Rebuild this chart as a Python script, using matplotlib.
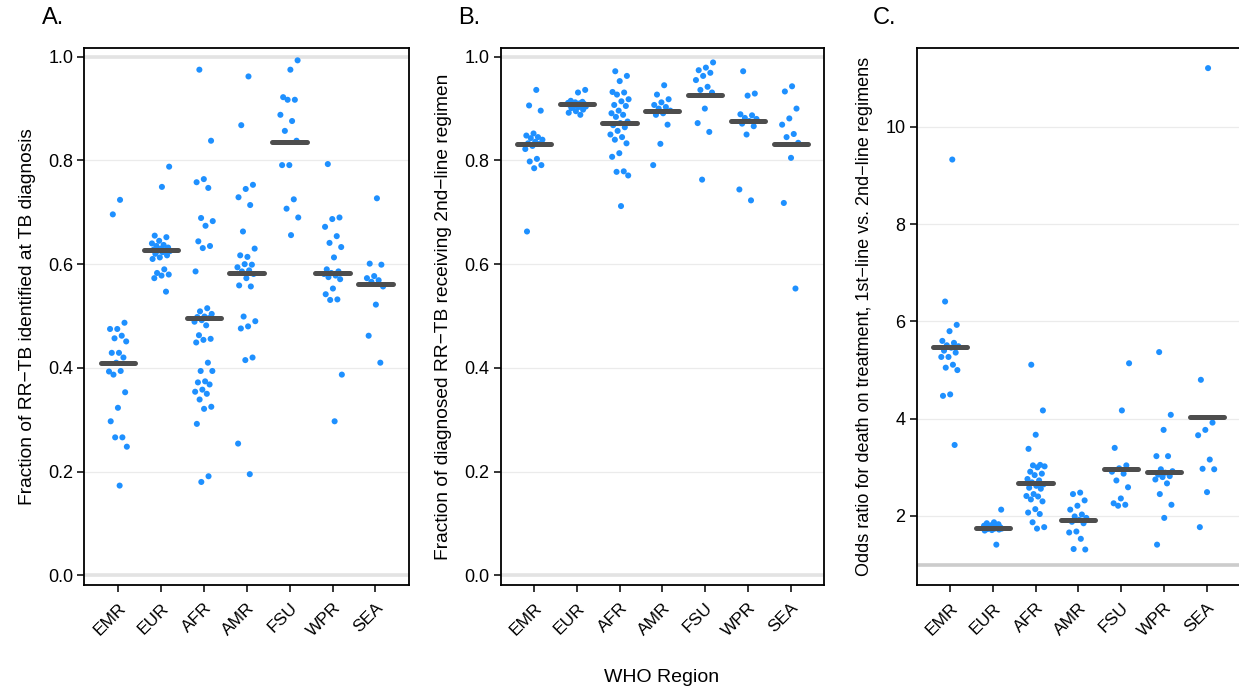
import matplotlib
matplotlib.use("Agg")
import matplotlib.pyplot as plt
import numpy as np

plt.rcParams['font.family'] = ['Liberation Sans', 'DejaVu Sans']

regions = ["EMR", "EUR", "AFR", "AMR", "FSU", "WPR", "SEA"]

# Panel A: fraction of RR-TB identified at TB diagnosis
a_values = [
    [0.724, 0.696, 0.487, 0.475, 0.475, 0.462, 0.457, 0.451, 0.429, 0.429, 0.420,
     0.410, 0.393, 0.394, 0.387, 0.353, 0.323, 0.297, 0.266, 0.266, 0.248, 0.173],
    [0.788, 0.749, 0.655, 0.652, 0.645, 0.640, 0.637, 0.635, 0.632, 0.630, 0.628,
     0.627, 0.626, 0.625, 0.623, 0.620, 0.617, 0.613, 0.610, 0.590, 0.583, 0.580,
     0.578, 0.573, 0.547],
    [0.975, 0.838, 0.764, 0.758, 0.747, 0.689, 0.683, 0.674, 0.644, 0.635, 0.631,
     0.586, 0.515, 0.509, 0.504, 0.499, 0.498, 0.496, 0.492, 0.489, 0.482, 0.463,
     0.456, 0.454, 0.449, 0.410, 0.394, 0.394, 0.374, 0.372, 0.368, 0.358, 0.354,
     0.350, 0.339, 0.325, 0.321, 0.292, 0.191, 0.180],
    [0.962, 0.868, 0.753, 0.745, 0.729, 0.714, 0.663, 0.630, 0.614, 0.617, 0.599,
     0.600, 0.594, 0.588, 0.586, 0.581, 0.573, 0.559, 0.557, 0.499, 0.490, 0.480,
     0.476, 0.420, 0.415, 0.254, 0.195],
    [0.993, 0.975, 0.922, 0.917, 0.917, 0.888, 0.876, 0.857, 0.838, 0.791, 0.791,
     0.725, 0.707, 0.690, 0.656],
    [0.793, 0.690, 0.687, 0.672, 0.654, 0.641, 0.633, 0.613, 0.590, 0.586, 0.583,
     0.581, 0.578, 0.575, 0.571, 0.553, 0.542, 0.532, 0.531, 0.387, 0.297],
    [0.727, 0.601, 0.599, 0.577, 0.573, 0.569, 0.566, 0.557, 0.522, 0.462, 0.410],
]
a_medians = [0.410, 0.628, 0.497, 0.583, 0.836, 0.583, 0.561]

# Panel B: fraction of diagnosed RR-TB receiving 2nd-line regimen
b_values = [
    [0.936, 0.906, 0.896, 0.852, 0.848, 0.845, 0.843, 0.840, 0.836, 0.833, 0.832,
     0.828, 0.822, 0.803, 0.798, 0.791, 0.785, 0.663],
    [0.936, 0.931, 0.915, 0.913, 0.912, 0.911, 0.910, 0.910, 0.909, 0.908, 0.907,
     0.906, 0.905, 0.904, 0.903, 0.901, 0.898, 0.895, 0.892, 0.888],
    [0.972, 0.963, 0.953, 0.932, 0.931, 0.927, 0.918, 0.914, 0.907, 0.905, 0.896,
     0.891, 0.888, 0.884, 0.875, 0.872, 0.868, 0.864, 0.857, 0.850, 0.845, 0.840,
     0.833, 0.814, 0.807, 0.779, 0.778, 0.771, 0.712],
    [0.945, 0.927, 0.918, 0.912, 0.907, 0.903, 0.900, 0.896, 0.891, 0.888, 0.869,
     0.832, 0.791],
    [0.989, 0.979, 0.974, 0.969, 0.963, 0.955, 0.942, 0.936, 0.931, 0.900, 0.872,
     0.855, 0.763],
    [0.972, 0.929, 0.925, 0.889, 0.887, 0.882, 0.880, 0.876, 0.871, 0.866, 0.850,
     0.744, 0.723],
    [0.943, 0.933, 0.900, 0.881, 0.869, 0.851, 0.845, 0.834, 0.805, 0.718, 0.553],
]
b_medians = [0.832, 0.908, 0.873, 0.896, 0.927, 0.877, 0.831]

# Panel C: odds ratio for death on treatment
c_values = [
    [9.33, 6.41, 5.93, 5.80, 5.60, 5.56, 5.51, 5.49, 5.46, 5.40, 5.36, 5.27, 5.27,
     5.11, 5.05, 5.00, 4.50, 4.47, 3.46],
    [2.13, 1.87, 1.85, 1.83, 1.81, 1.80, 1.79, 1.78, 1.77, 1.77, 1.76, 1.75, 1.75,
     1.74, 1.74, 1.73, 1.72, 1.71, 1.70, 1.41],
    [5.11, 4.17, 3.67, 3.38, 3.05, 3.04, 3.02, 3.00, 2.91, 2.87, 2.84, 2.76, 2.73,
     2.69, 2.65, 2.62, 2.58, 2.56, 2.45, 2.41, 2.40, 2.34, 2.30, 2.14, 2.07, 2.04,
     1.87, 1.77, 1.74],
    [2.48, 2.45, 2.32, 2.21, 2.13, 2.03, 1.99, 1.96, 1.92, 1.88, 1.85, 1.68, 1.66,
     1.53, 1.32, 1.31],
    [5.14, 4.17, 3.40, 3.04, 2.98, 2.91, 2.87, 2.73, 2.59, 2.36, 2.26, 2.23, 2.21],
    [5.37, 4.08, 3.77, 3.23, 3.23, 2.96, 2.92, 2.89, 2.85, 2.82, 2.80, 2.75, 2.67,
     2.45, 2.23, 1.96, 1.41],
    [11.21, 4.80, 3.92, 3.77, 3.66, 3.16, 2.97, 2.96, 2.49, 1.77],
]
c_medians = [5.48, 1.76, 2.68, 1.91, 2.96, 2.91, 4.04]

a_ticks = [0.0, 0.2, 0.4, 0.6, 0.8, 1.0]
c_ticks = [2, 4, 6, 8, 10]

W, H = 1239, 690
fig = plt.figure(figsize=(W / 100, H / 100), dpi=100)

POINT_COLOR = "#1E90FF"
BAR_COLOR = "#4D4D4D"


def jitter(n, k):
    # deterministic horizontal spread (low-discrepancy sequence)
    idx = np.arange(n) + 1 + 7 * k
    return ((idx * 0.6180339887) % 1.0 - 0.5) * 0.44


def panel(left, width, values, medians, ylim, yticks, ticklabels, ylabel,
          refline, refcolor, title, title_x, label_size):
    ax = fig.add_axes([left / W, (H - 585) / H, width / W, (585 - 47.7) / H])
    ax.set_xlim(-0.78, 6.78)
    ax.set_ylim(*ylim)
    for y in yticks:
        ax.axhline(y, color="#EBEBEB", lw=0.9, zorder=0)
    for y in refline:
        ax.axhline(y, color=refcolor, lw=2.6, zorder=0.5)
    for k, vals in enumerate(values):
        v = np.asarray(vals)
        ax.scatter(k + jitter(len(v), k), v, s=19, color=POINT_COLOR,
                   edgecolors="none", zorder=2)
        ax.plot([k - 0.4, k + 0.4], [medians[k], medians[k]], color=BAR_COLOR,
                lw=3.6, solid_capstyle="round", zorder=3)
    ax.set_xticks(range(len(regions)))
    ax.set_xticklabels(regions, rotation=45, ha="right", rotation_mode="anchor",
                       fontsize=12.5)
    ax.set_yticks(yticks)
    ax.set_yticklabels(ticklabels, fontsize=13)
    ax.tick_params(axis="both", direction="out", length=5, width=1.1,
                   color="black", labelcolor="black", pad=3)
    ax.tick_params(axis="x", pad=6)
    for s in ax.spines.values():
        s.set_linewidth(1.3)
        s.set_color("black")
    ax.set_ylabel(ylabel, fontsize=label_size, labelpad=9)
    fig.text(title_x / W, 1 - 18 / H, title, fontsize=17, ha="left", va="center")
    return ax


panel(84.3, 324.7, a_values, a_medians, (-0.0187, 1.0174), a_ticks,
      ["0.0", "0.2", "0.4", "0.6", "0.8", "1.0"],
      "Fraction of RR\u2212TB identified at TB diagnosis",
      [0.0, 1.0], "#E3E3E3", "A.", 42, 13.8)
panel(500.7, 323.3, b_values, b_medians, (-0.0187, 1.0174), a_ticks,
      ["0.0", "0.2", "0.4", "0.6", "0.8", "1.0"],
      "Fraction of diagnosed RR\u2212TB receiving 2nd\u2212line regimen",
      [0.0, 1.0], "#E3E3E3", "B.", 458, 13.8)
panel(916.7, 323.3, c_values, c_medians, (0.58, 11.63), c_ticks,
      [str(t) for t in c_ticks],
      "Odds ratio for death on treatment, 1st\u2212line vs. 2nd\u2212line regimens",
      [1.0], "#CCCCCC", "C.", 873, 13)

fig.text(662 / W, 1 - 678 / H, "WHO Region", fontsize=14, ha="center", va="center")

fig.savefig("out.png", dpi=100)
